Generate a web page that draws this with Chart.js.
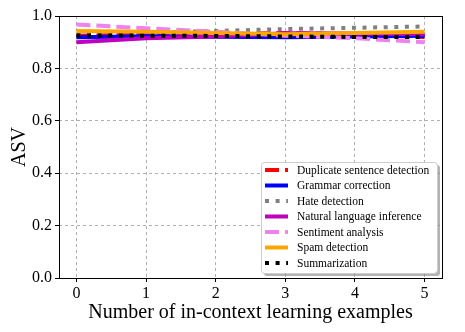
<!DOCTYPE html>
<html><head><meta charset="utf-8">
<script src="https://cdn.jsdelivr.net/npm/chart.js@4/dist/chart.umd.min.js"></script>
<style>html,body{margin:0;padding:0;background:#fff}#wrap{width:465px;height:332px}</style>
</head><body><div id="wrap"><canvas id="c" width="465" height="332"></canvas></div>
<script>
const xValues = [0, 1, 2, 3, 4, 5];
const seriesNames = ["Duplicate sentence detection","Grammar correction","Hate detection","Natural language inference","Sentiment analysis","Spam detection","Summarization"];
const duplicate = [0.925, 0.928, 0.930, 0.935, 0.930, 0.920];
const grammar = [0.919, 0.923, 0.921, 0.919, 0.922, 0.925];
const hate = [0.930, 0.935, 0.943, 0.950, 0.955, 0.960];
const nli = [0.900, 0.915, 0.922, 0.934, 0.933, 0.930];
const sentiment = [0.968, 0.953, 0.940, 0.925, 0.915, 0.900];
const spam = [0.943, 0.940, 0.935, 0.930, 0.935, 0.940];
const summarization = [0.926, 0.925, 0.924, 0.922, 0.920, 0.920];
const yTicks = [0, 0.2, 0.4, 0.6, 0.8, 1.0];
const xTicks = [0, 1, 2, 3, 4, 5];

const styles = [
  {color:'#ff0000', dash:[14,6]},
  {color:'#0000ff', dash:[]},
  {color:'#808080', dash:[4,6.6]},
  {color:'#bf00bf', dash:[]},
  {color:'#ee82ee', dash:[14,6]},
  {color:'#ffa500', dash:[]},
  {color:'#000000', dash:[4,6.6]}
];
const allData = [duplicate, grammar, hate, nli, sentiment, spam, summarization];
const FONT = "'Liberation Serif', 'DejaVu Serif', serif";

const datasets = allData.map((d, i) => ({
  label: seriesNames[i],
  data: d.map((v, j) => ({x: xValues[j], y: v})),
  borderColor: styles[i].color,
  backgroundColor: styles[i].color,
  borderDash: styles[i].dash,
  borderWidth: 4,
  borderCapStyle: 'butt',
  pointRadius: 0,
  tension: 0,
  fill: false,
  order: 10 - i
}));

const legendPlugin = {
  id: 'customLegend',
  afterDraw(chart) {
    const ctx = chart.ctx;
    const x0 = 261, y0 = 162, w = 176, h = 111;
    ctx.save();
    ctx.fillStyle = 'rgba(128,128,128,0.6)';
    roundRect(ctx, x0 + 3, y0 + 3, w, h, 3); ctx.fill();
    ctx.fillStyle = '#ffffff';
    roundRect(ctx, x0, y0, w, h, 3); ctx.fill();
    ctx.strokeStyle = '#cccccc'; ctx.lineWidth = 1;
    roundRect(ctx, x0 + 0.5, y0 + 0.5, w, h, 3); ctx.stroke();
    ctx.font = "11.5px " + FONT;
    ctx.textBaseline = 'middle';
    seriesNames.forEach((name, i) => {
      const yy = 170 + i * 15.5;
      ctx.strokeStyle = styles[i].color;
      ctx.lineWidth = 4;
      ctx.lineCap = 'butt';
      ctx.setLineDash(styles[i].dash);
      ctx.beginPath(); ctx.moveTo(265, yy); ctx.lineTo(288, yy); ctx.stroke();
      ctx.setLineDash([]);
      ctx.fillStyle = '#000';
      ctx.fillText(name, 297, yy + 0.5);
    });
    ctx.restore();
  }
};
function roundRect(ctx, x, y, w, h, r) {
  ctx.beginPath();
  ctx.moveTo(x + r, y);
  ctx.lineTo(x + w - r, y); ctx.quadraticCurveTo(x + w, y, x + w, y + r);
  ctx.lineTo(x + w, y + h - r); ctx.quadraticCurveTo(x + w, y + h, x + w - r, y + h);
  ctx.lineTo(x + r, y + h); ctx.quadraticCurveTo(x, y + h, x, y + h - r);
  ctx.lineTo(x, y + r); ctx.quadraticCurveTo(x, y, x + r, y);
  ctx.closePath();
}
const frameClip = {
  id: 'frame',
  afterDatasetsDraw(chart) {
    const a = chart.chartArea, ctx = chart.ctx;
    ctx.save();
    ctx.strokeStyle = '#000'; ctx.lineWidth = 1;
    ctx.strokeRect(Math.round(a.left) + 0.5, Math.round(a.top) + 0.5, Math.round(a.right - a.left), Math.round(a.bottom - a.top));
    ctx.restore();
  }
};

new Chart(document.getElementById('c'), {
  type: 'line',
  data: { datasets },
  options: {
    responsive: false,
    animation: false,
    devicePixelRatio: 1,
    layout: { padding: { top: 16, right: 23, left: 8, bottom: 7 } },
    plugins: { legend: { display: false }, tooltip: { enabled: false } },
    scales: {
      x: {
        type: 'linear', min: -0.25, max: 5.25,
        afterBuildTicks(s) { s.ticks = xTicks.map(v => ({value: v})); },
        afterFit(s) { s.height = 47; },
        grid: { color: '#b0b0b0', drawTicks: true, tickLength: 4, tickColor: '#000' },
        border: { display: false, dash: [3,3] },
        ticks: { font: { family: FONT, size: 16 }, color: '#000', padding: 2, maxRotation: 0,
          callback: v => String(v) },
        title: { display: true, text: 'Number of in-context learning examples', font: { family: FONT, size: 20 }, color: '#000', padding: { top: 0, bottom: 0 } }
      },
      y: {
        min: 0, max: 1,
        afterBuildTicks(s) { s.ticks = yTicks.map(v => ({value: v})); },
        afterFit(s) { s.width = 51; },
        grid: { color: '#b0b0b0', drawTicks: true, tickLength: 4, tickColor: '#000' },
        border: { display: false, dash: [3,3] },
        ticks: { font: { family: FONT, size: 16 }, color: '#000', padding: 3,
          callback: v => Number(v).toFixed(1) },
        title: { display: true, text: 'ASV', font: { family: FONT, size: 20 }, color: '#000', padding: { top: 0, bottom: 2 } }
      }
    }
  },
  plugins: [frameClip, legendPlugin]
});
</script></body></html>
